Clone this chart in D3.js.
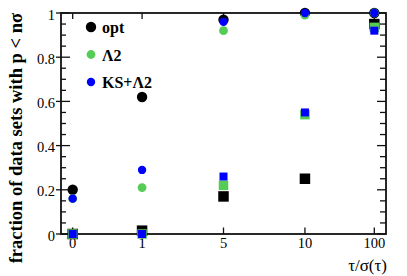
<!DOCTYPE html>
<html>
<head>
<meta charset="utf-8">
<script src="https://cdn.jsdelivr.net/npm/d3@7"></script>
<style>
  body { margin: 0; background: #fff; }
  text { font-family: "Liberation Serif", "Times New Roman", serif; }
</style>
</head>
<body>
<div id="vis"></div>
<script>
var W = 407, H = 276;

// categories of tau/sigma(tau) and where each sits on the x axis
var cats = ["0", "1", "5", "10", "100"];
var catX = [0, 0.92, 2, 3.08, 4];

// filled circles
var circOpt = [0.20, 0.62, 0.97, 1.00, 1.00];
var circL2  = [0.16, 0.21, 0.92, 0.99, 1.00];
var circKS  = [0.16, 0.29, 0.96, 1.00, 1.00];

// filled squares
var sqOpt = [0, 0.015, 0.17, 0.25, 0.95];
var sqL2  = [0, 0,     0.22, 0.54, 0.935];
var sqKS  = [0, 0,     0.26, 0.55, 0.92];

var legendNames = ["opt", "\u039B2", "KS+\u039B2"];
var yTicks = [0, 0.2, 0.4, 0.6, 0.8, 1];

var colors = ["#000000", "#55cc55", "#0000ff"];
var circR = [5.2, 4.4, 4.2];
var sqS = [10.5, 9.5, 8];

var svg = d3.select("div#vis").append("svg")
  .attr("width", W).attr("height", H);

var x = d3.scaleLinear().domain([-0.155, 4.155]).range([61, 386]);
var y = d3.scaleLinear().domain([0, 1]).range([234, 13]);

// frame
svg.append("rect")
  .attr("x", x.range()[0]).attr("y", y.range()[1])
  .attr("width", x.range()[1] - x.range()[0])
  .attr("height", y.range()[0] - y.range()[1])
  .style("fill", "none").style("stroke", "#111").style("stroke-width", 1.8);

// y ticks, left and right
var minor = d3.range(0, 1.0001, 0.05);
var ax = svg.append("g").style("stroke", "#111").style("stroke-width", 1.3);
minor.forEach(function(v) {
  var major = Math.abs(v * 5 - Math.round(v * 5)) < 1e-6;
  ax.append("line").attr("x1", major ? 56 : 61).attr("x2", major ? 70 : 66)
    .attr("y1", y(v)).attr("y2", y(v));
  ax.append("line").attr("x1", 386).attr("x2", major ? 377 : 380)
    .attr("y1", y(v)).attr("y2", y(v));
});

// x ticks at categories, bottom and top
catX.forEach(function(c) {
  ax.append("line").attr("x1", x(c)).attr("x2", x(c)).attr("y1", 234).attr("y2", 227.5);
  ax.append("line").attr("x1", x(c)).attr("x2", x(c)).attr("y1", 13).attr("y2", 19);
});

svg.selectAll("text.ylab").data(yTicks).enter().append("text")
  .attr("class", "ylab")
  .attr("x", 55).attr("y", function(d) { return y(d) + 1.5; })
  .attr("text-anchor", "end").attr("dominant-baseline", "central")
  .style("font-size", "14.5px")
  .text(function(d) { return d; });

svg.selectAll("text.xlab").data(cats).enter().append("text")
  .attr("class", "xlab")
  .attr("x", function(d, i) { return x(catX[i]); }).attr("y", 248)
  .attr("text-anchor", "middle")
  .style("font-size", "14.5px")
  .text(function(d) { return d; });

svg.append("text")
  .attr("x", 387).attr("y", 271)
  .attr("text-anchor", "end")
  .style("font-size", "17px")
  .text("\u03C4/\u03C3(\u03C4)");

svg.append("text")
  .attr("transform", "translate(22,13) rotate(-90)")
  .attr("text-anchor", "end")
  .style("font-size", "18.5px").style("font-weight", "bold")
  .text("fraction of data sets with p < n\u03C3");

// markers
var circs = [circOpt, circL2, circKS];
var sqs = [sqOpt, sqL2, sqKS];

sqs.forEach(function(s, k) {
  svg.append("g").selectAll("rect").data(s).enter().append("rect")
    .attr("x", function(d, i) { return x(catX[i]) - sqS[k] / 2; })
    .attr("y", function(d) { return y(d) - sqS[k] / 2; })
    .attr("width", sqS[k]).attr("height", sqS[k])
    .style("fill", colors[k]);
});

circs.forEach(function(s, k) {
  svg.append("g").selectAll("circle").data(s).enter().append("circle")
    .attr("cx", function(d, i) { return x(catX[i]); })
    .attr("cy", function(d) { return y(d); })
    .attr("r", circR[k])
    .style("fill", colors[k]);
});

// legend
var leg = svg.selectAll("g.leg").data(legendNames).enter().append("g")
  .attr("class", "leg")
  .attr("transform", function(d, i) { return "translate(91," + (27 + i * 27.5) + ")"; });
leg.append("circle").attr("r", function(d, i) { return circR[i]; })
  .style("fill", function(d, i) { return colors[i]; });
leg.append("text").attr("x", 11).attr("dominant-baseline", "central").attr("dy", 0.5)
  .style("font-size", "16px").style("font-weight", "bold")
  .text(function(d) { return d; });
</script>
</body>
</html>
